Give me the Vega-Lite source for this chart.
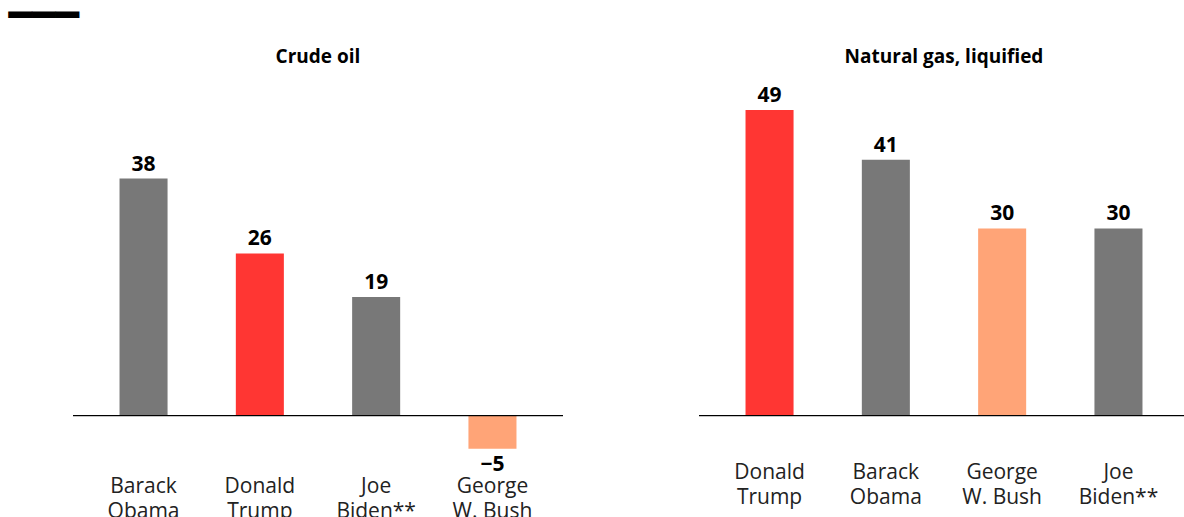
{
  "$schema": "https://vega.github.io/schema/vega-lite/v6.json",
  "background": "white",
  "padding": {"left": 8, "top": -4, "right": 0, "bottom": 0},
  "title": {"text": "━━━", "anchor": "start", "font": "DejaVu Sans Mono", "fontSize": 39, "fontWeight": "normal", "color": "black", "dx": -64, "offset": 12},
  "config": {"view": {"stroke": null}, "font": "Open Sans", "concat": {"spacing": 134}},
  "datasets": {
    "trade": [
      {"commodity": "Crude oil", "president": "Barack Obama", "change": 38},
      {"commodity": "Crude oil", "president": "Donald Trump", "change": 26},
      {"commodity": "Crude oil", "president": "Joe Biden**", "change": 19},
      {"commodity": "Crude oil", "president": "George W. Bush", "change": -5.3},
      {"commodity": "Natural gas, liquified", "president": "Donald Trump", "change": 49},
      {"commodity": "Natural gas, liquified", "president": "Barack Obama", "change": 41},
      {"commodity": "Natural gas, liquified", "president": "George W. Bush", "change": 30},
      {"commodity": "Natural gas, liquified", "president": "Joe Biden**", "change": 30}
    ]
  },
  "hconcat": [
    {
      "width": 490,
      "height": 368,
      "title": {"text": "Crude oil", "fontSize": 19, "fontWeight": "bold", "offset": 18, "color": "black"},
      "data": {"name": "trade"},
      "transform": [{"filter": "datum.commodity === 'Crude oil'"}],
      "layer": [
        {
          "mark": {"type": "bar"},
          "encoding": {
            "x": {"field": "president", "type": "nominal", "sort": ["Barack Obama", "Donald Trump", "Joe Biden**", "George W. Bush"],
              "scale": {"paddingInner": 0.587, "paddingOuter": 0.4},
              "axis": {"title": null, "domain": false, "ticks": false, "labelAngle": 0, "labelFontSize": 21, "labelColor": "#222222", "labelPadding": 22, "labelLineHeight": 25, "labelExpr": "[substring(datum.value, 0, indexof(datum.value, ' ')), substring(datum.value, indexof(datum.value, ' ') + 1)]"}},
            "y": {"field": "change", "type": "quantitative", "scale": {"domain": [-6, 53], "nice": false, "zero": false}, "axis": null},
            "color": {"field": "president", "type": "nominal", "legend": null,
              "scale": {"domain": ["Barack Obama", "Donald Trump", "Joe Biden**", "George W. Bush"], "range": ["#787878", "#FF3633", "#787878", "#FFA477"]}}
          }
        },
        {
          "transform": [{"filter": "datum.change >= 0"}],
          "mark": {"type": "text", "fontWeight": "bold", "fontSize": 21, "baseline": "alphabetic", "dy": -8, "color": "black"},
          "encoding": {
            "x": {"field": "president", "type": "nominal", "sort": ["Barack Obama", "Donald Trump", "Joe Biden**", "George W. Bush"]},
            "y": {"field": "change", "type": "quantitative"},
            "text": {"field": "change", "type": "quantitative", "format": ".0f"}
          }
        },
        {
          "transform": [{"filter": "datum.change < 0"}],
          "mark": {"type": "text", "fontWeight": "bold", "fontSize": 21, "baseline": "alphabetic", "dy": 22, "color": "black"},
          "encoding": {
            "x": {"field": "president", "type": "nominal", "sort": ["Barack Obama", "Donald Trump", "Joe Biden**", "George W. Bush"]},
            "y": {"field": "change", "type": "quantitative"},
            "text": {"field": "change", "type": "quantitative", "format": ".0f"}
          }
        },
        {
          "mark": {"type": "rule", "color": "black", "strokeWidth": 1},
          "encoding": {"y": {"datum": 0, "type": "quantitative"}}
        }
      ]
    },
    {
      "width": 490,
      "height": 368,
      "title": {"text": "Natural gas, liquified", "fontSize": 19, "fontWeight": "bold", "offset": 18, "color": "black"},
      "data": {"name": "trade"},
      "transform": [{"filter": "datum.commodity === 'Natural gas, liquified'"}],
      "layer": [
        {
          "mark": {"type": "bar"},
          "encoding": {
            "x": {"field": "president", "type": "nominal", "sort": ["Donald Trump", "Barack Obama", "George W. Bush", "Joe Biden**"],
              "scale": {"paddingInner": 0.587, "paddingOuter": 0.4},
              "axis": {"title": null, "domain": false, "ticks": false, "labelAngle": 0, "labelFontSize": 21, "labelColor": "#222222", "labelPadding": 8, "labelLineHeight": 25, "labelExpr": "[substring(datum.value, 0, indexof(datum.value, ' ')), substring(datum.value, indexof(datum.value, ' ') + 1)]"}},
            "y": {"field": "change", "type": "quantitative", "scale": {"domain": [-6, 53], "nice": false, "zero": false}, "axis": null},
            "color": {"field": "president", "type": "nominal", "legend": null,
              "scale": {"domain": ["Barack Obama", "Donald Trump", "Joe Biden**", "George W. Bush"], "range": ["#787878", "#FF3633", "#787878", "#FFA477"]}}
          }
        },
        {
          "mark": {"type": "text", "fontWeight": "bold", "fontSize": 21, "baseline": "alphabetic", "dy": -8, "color": "black"},
          "encoding": {
            "x": {"field": "president", "type": "nominal", "sort": ["Donald Trump", "Barack Obama", "George W. Bush", "Joe Biden**"]},
            "y": {"field": "change", "type": "quantitative"},
            "text": {"field": "change", "type": "quantitative", "format": ".0f"}
          }
        },
        {
          "mark": {"type": "rule", "color": "black", "strokeWidth": 1},
          "encoding": {"y": {"datum": 0, "type": "quantitative"}}
        }
      ]
    }
  ]
}
